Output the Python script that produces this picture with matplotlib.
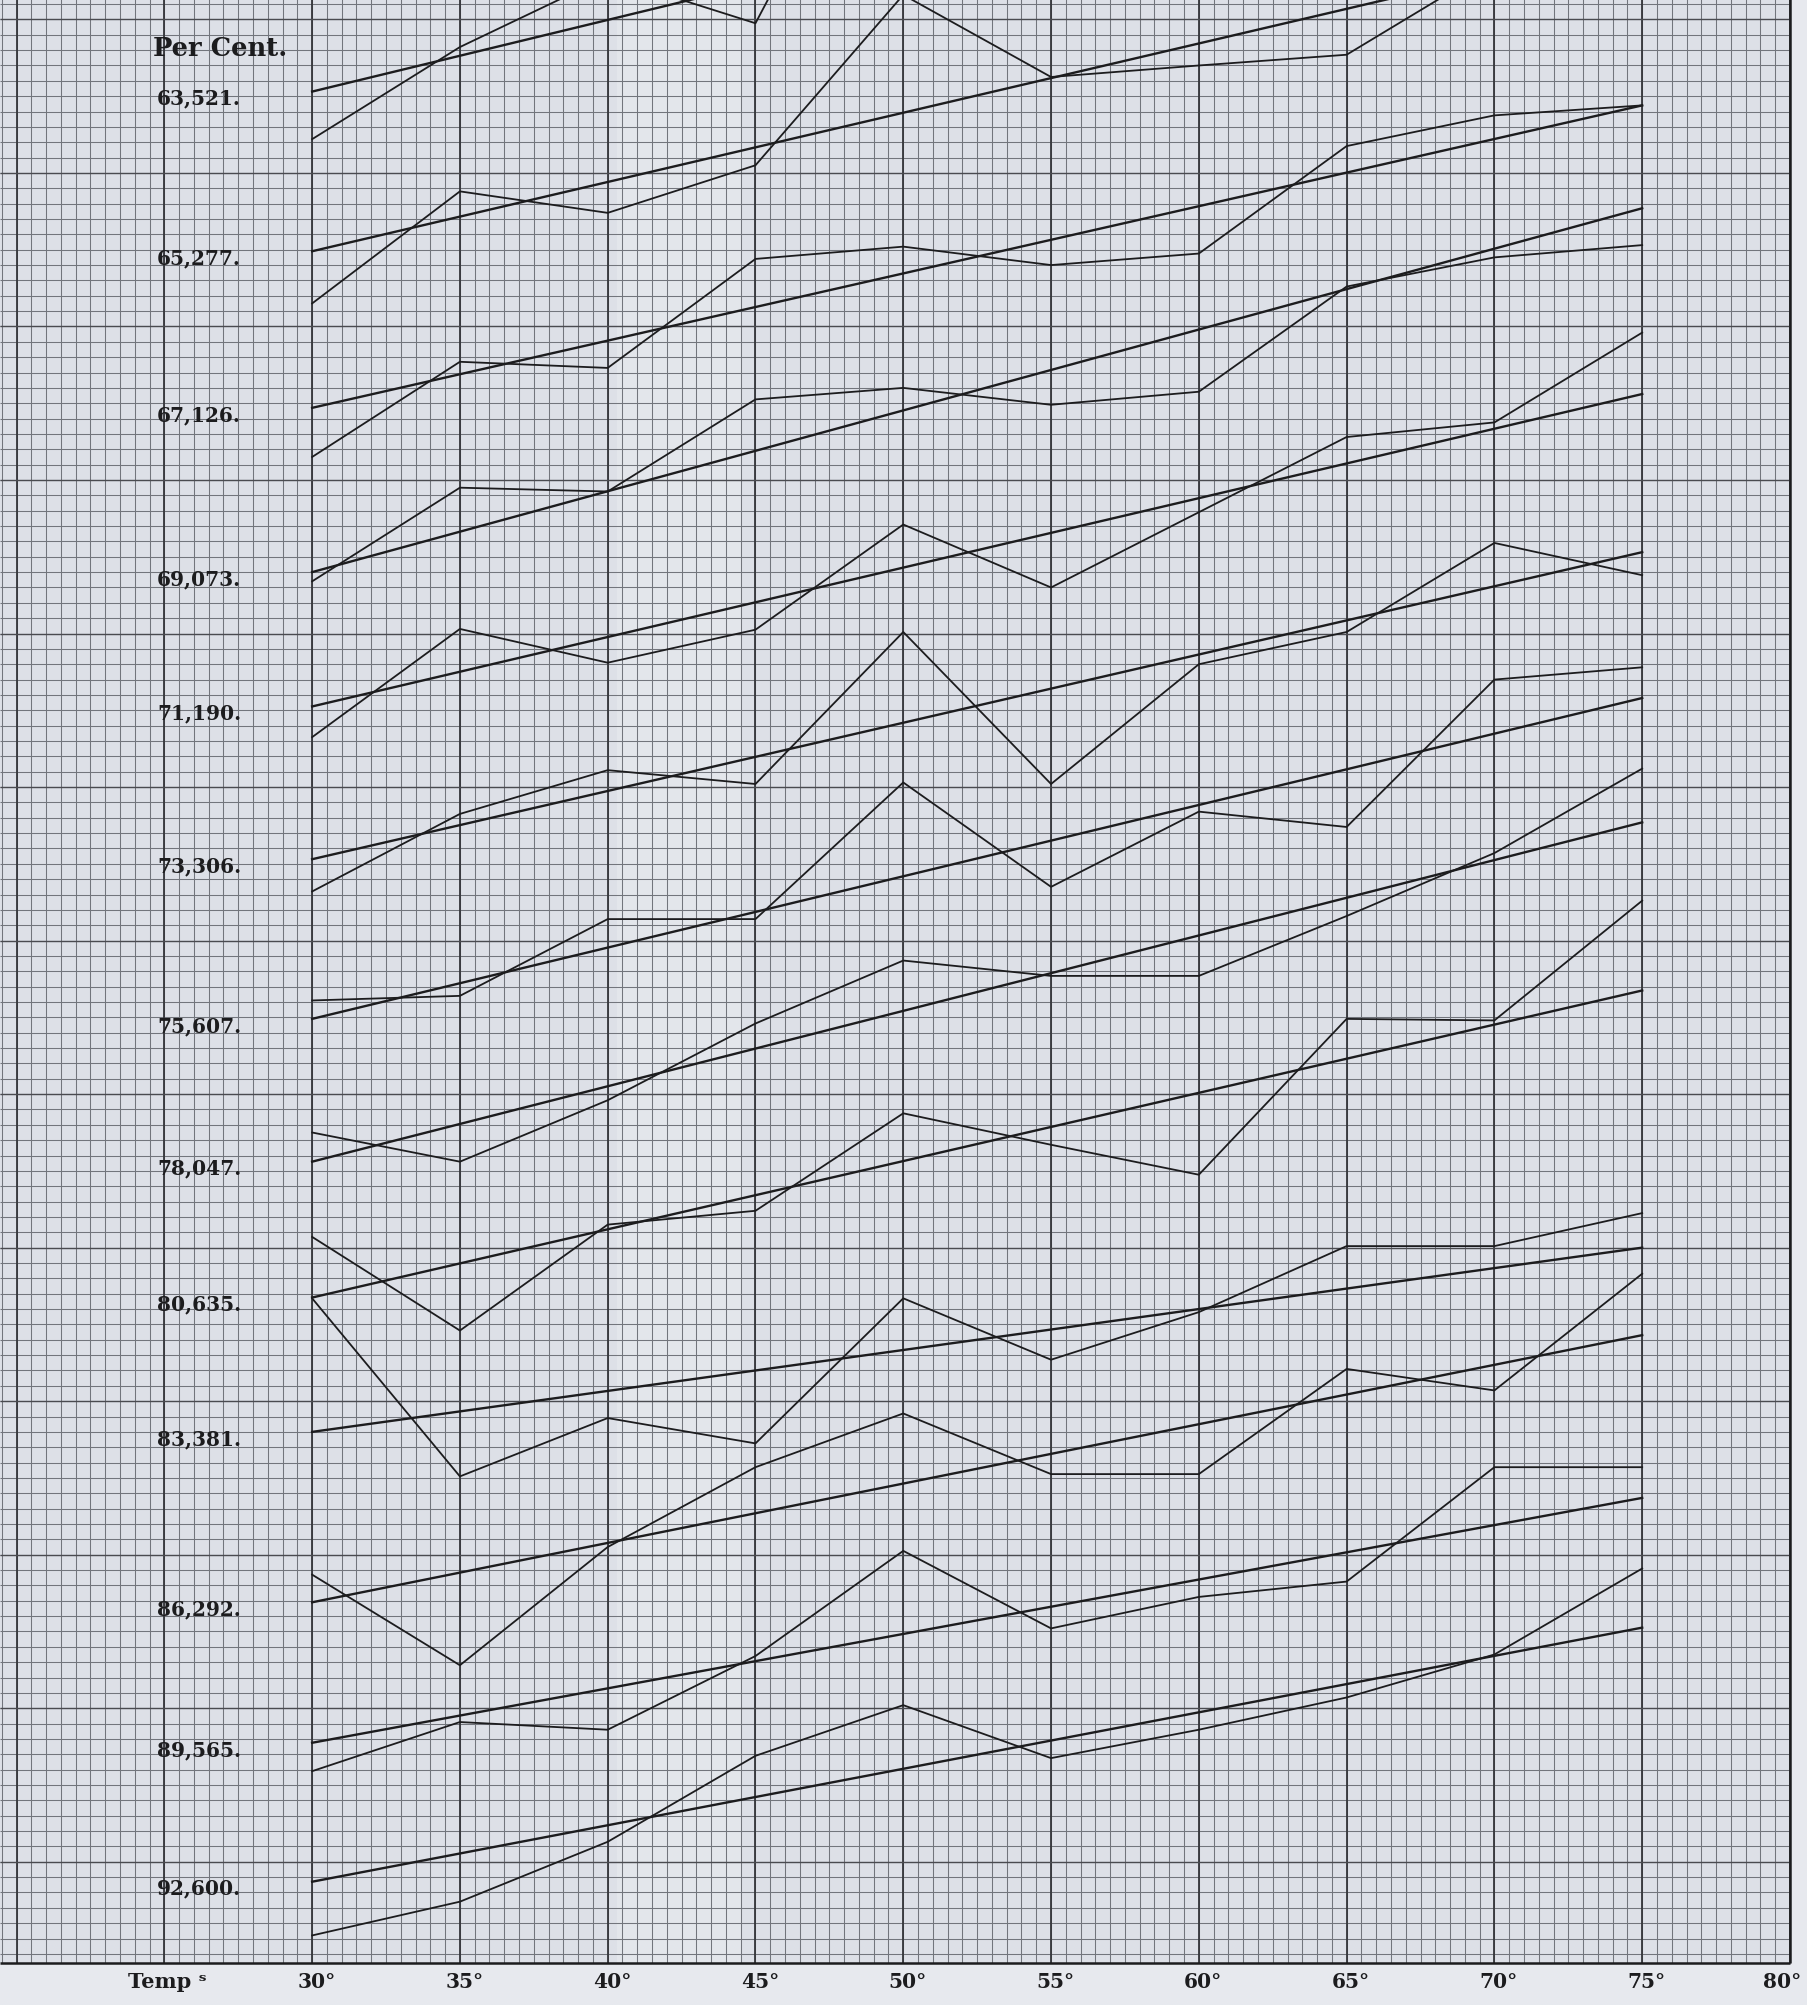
import numpy as np
import matplotlib.pyplot as plt
from matplotlib.patches import Rectangle

# temperatures (degrees) at which the observed values are plotted
temps = [30, 35, 40, 45, 50, 55, 60, 65, 70, 75]
tick_temps = [30, 35, 40, 45, 50, 55, 60, 65, 70, 75, 80]

# strengths written at the left, one per pair of lines
percent_labels = ["63,521.", "65,277.", "67,126.", "69,073.", "71,190.", "73,306.",
                  "75,607.", "78,047.", "80,635.", "83,381.", "86,292.", "89,565.", "92,600."]

# ruled (straight) lines, height in paper divisions at 30 and 75 degrees
straight_start = [125.3, 114.9, 104.7, 94.0, 85.25, 75.3, 64.9, 55.6, 46.75, 38.0, 26.9, 17.75, 8.7]
straight_end = [146.3, 135.2, 124.4, 117.7, 105.6, 95.3, 85.8, 77.7, 66.75, 50.0, 44.3, 33.7, 25.25]

# observed (broken) lines, height in paper divisions at each temperature
nan = np.nan
obs_63521 = [122.2, 128.2, 132.8, 129.75, 148.0, nan, nan, nan, nan, nan]
obs_65277 = [111.5, 118.8, 117.4, 120.5, 131.6, 126.25, 127.0, 127.7, 133.5, nan]
obs_67126 = [101.5, 107.7, 107.3, 114.4, 115.2, 114.0, 114.75, 121.75, 123.75, 124.4]
obs_69073 = [93.4, 99.5, 99.25, 105.25, 106.0, 104.9, 105.75, 112.6, 114.5, 115.3]
obs_71190 = [83.25, 90.3, 88.1, 90.25, 97.1, 93.0, 97.9, 102.8, 103.75, 109.6]
obs_73306 = [73.2, 78.25, 81.1, 80.2, 90.1, 80.2, 88.0, 90.1, 95.9, 93.8]
obs_75607 = [66.1, 66.4, 71.4, 71.4, 80.3, 73.5, 78.4, 77.4, 87.0, 87.8]
obs_78047 = [57.5, 55.6, 59.6, 64.6, 68.7, 67.7, 67.7, 71.6, 75.7, 81.2]
obs_80635 = [50.7, 44.6, 51.5, 52.4, 58.75, 56.7, 54.75, 64.9, 64.8, 72.6]
obs_83381 = [46.7, 35.1, 38.9, 37.25, 46.7, 42.7, 45.8, 50.1, 50.1, 52.25]
obs_86292 = [28.7, 22.8, 30.5, 35.7, 39.2, 35.25, 35.25, 42.1, 40.7, 48.3]
obs_89565 = [15.9, 19.1, 18.6, 23.4, 30.25, 25.2, 27.25, 28.25, 35.7, 35.7]
obs_92600 = [5.2, 7.4, 11.3, 16.9, 20.2, 16.75, 18.6, 20.7, 23.5, 29.1]

observed = [obs_63521, obs_65277, obs_67126, obs_69073, obs_71190, obs_73306, obs_75607,
            obs_78047, obs_80635, obs_83381, obs_86292, obs_89565, obs_92600]

# paper / layout
xmin, xmax = 19.44, 80.61
ymin, ymax = 0.67, 131.33
grid_right, grid_bottom = 80.0, 3.4
paper = '#dde0e7'
ink = '#1c1c1e'
label_font = dict(family=['DejaVu Serif', 'DejaVu Sans'], fontweight='bold', color=ink)

fig = plt.figure(figsize=(18.08, 20.06), dpi=100, facecolor='#e7e9ee')
ax = fig.add_axes([0, 0, 1, 1])
ax.set_xlim(xmin, xmax)
ax.set_ylim(ymin, ymax)
ax.axis('off')

# squared paper
ax.add_patch(Rectangle((xmin, grid_bottom), grid_right - xmin, ymax - grid_bottom,
                       facecolor=paper, edgecolor='none', zorder=0))
ax.axvspan(40.3, 44.5, ymin=(grid_bottom - ymin) / (ymax - ymin), color='white', alpha=0.2, lw=0, zorder=0)

minor_x = np.arange(19.5, grid_right + 0.01, 0.5)
minor_y = np.arange(4, ymax, 1.0)
ax.vlines(minor_x, grid_bottom, ymax, color='#72757c', lw=0.75, zorder=1)
ax.hlines(minor_y, xmin, grid_right, color='#72757c', lw=0.75, zorder=1)
ax.vlines(np.arange(20, grid_right + 0.01, 5), grid_bottom, ymax, color='#34353a', lw=1.3, zorder=1)
ax.hlines(np.arange(10, ymax, 10), xmin, grid_right, color='#4a4b50', lw=1.0, zorder=1)
ax.hlines(grid_bottom, xmin, grid_right, color=ink, lw=1.8, zorder=1)
ax.vlines(grid_right, grid_bottom, ymax, color=ink, lw=1.8, zorder=1)

# ruled and observed lines
for s, e in zip(straight_start, straight_end):
    ax.plot([temps[0], temps[-1]], [s, e], color=ink, lw=1.7, zorder=3)
for obs in observed:
    ax.plot(temps, obs, color=ink, lw=1.3, zorder=3)

# labels
ax.text(24.6, 128.2, "Per Cent.", fontsize=18.5, ha='left', va='center', zorder=4, **label_font)
for lab, s in zip(percent_labels, straight_start):
    ax.text(24.75, s - 0.4, lab, fontsize=14.5, ha='left', va='center', zorder=4, **label_font)

ax.text(25.1, 2.25, "Temp ˢ", fontsize=15, ha='center', va='center', zorder=4, **label_font)
for t in tick_temps:
    ax.text(min(t + 0.15, 79.75), 2.25, f"{t}°", fontsize=14.5, ha='center', va='center',
            zorder=4, **label_font)

fig.savefig('out.png', dpi=100, facecolor=fig.get_facecolor())
